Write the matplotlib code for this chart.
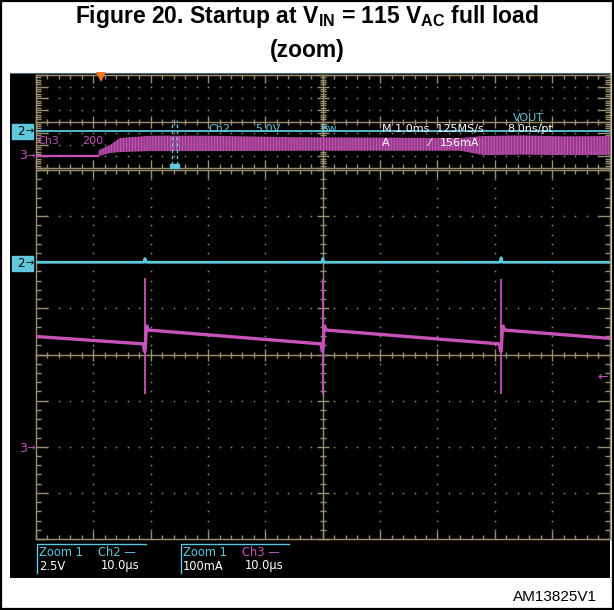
import numpy as np
import matplotlib
matplotlib.use("Agg")
import matplotlib.pyplot as plt
from matplotlib.patches import Rectangle
from matplotlib.collections import LineCollection

# ---------------- data ----------------
# Overview pane: 1 ms/div, Ch3 = current (200 mA/div), Ch2 = VOUT (5 V/div)
ov_flat_time_ms = [0.0, 1.08]
ov_flat_mA = [5, 5]
ov_band_time_ms = [1.08, 1.10, 1.29, 1.46, 2.0, 3.0, 4.5, 7.4, 7.8, 8.5, 9.2, 10.0]
ov_band_hi_mA = [5, 109, 195, 316, 355, 355, 330, 316, 350, 360, 345, 350]
ov_band_lo_mA = [5, 5, 57, 74, 91, 91, 97, 97, 22, 30, 22, 25]
ov_ch2_time_ms = [0.0, 10.0]
ov_ch2_V = [0.0, 0.0]
zoom_window_ms = [2.365, 2.455]
trigger_ms = 1.13

# Zoom pane: 10 us/div, Ch3 100 mA/div, Ch2 2.5 V/div
zm_ch3_time_us = [0.0, 18.7, 18.95, 19.05, 19.25, 19.6,
                  49.7, 49.95, 50.05, 50.25, 50.6,
                  80.8, 81.05, 81.15, 81.35, 81.7, 100.0]
zm_ch3_mA = [239, 223, 205, 215, 264, 253,
             223, 205, 215, 264, 253,
             223, 205, 215, 264, 253, 235]
zm_spike_time_us = [19.0, 50.0, 81.1]
zm_spike_top_mA = [366, 364, 364]
zm_spike_bottom_mA = [114, 114, 114]
zm_ch2_time_us = [0.0, 18.8, 19.0, 19.2, 49.8, 50.0, 50.2, 80.9, 81.1, 81.3, 100.0]
zm_ch2_V = [0.0, 0.0, 0.2, 0.0, 0.0, 0.2, 0.0, 0.0, 0.25, 0.0, 0.0]

# ---------------- styling ----------------
W, H = 614, 610
MAG = "#c853b8"
CYAN = "#5ec8dc"
GRID = "#9a9070"
DOT = "#8e8e86"
ORANGE = "#f07828"
SCOPE_FONT = "DejaVu Sans"

plt.rcParams["mathtext.fontset"] = "custom"
plt.rcParams["hatch.linewidth"] = 0.85
plt.rcParams["hatch.color"] = MAG

fig = plt.figure(figsize=(W / 100, H / 100), dpi=100)
fig.patch.set_facecolor("white")


def fbox(x0, y0, x1, y1):
    return [x0 / W, 1 - y1 / H, (x1 - x0) / W, (y1 - y0) / H]


def ptxt(x, y, s, color="white", size=8, ha="left", va="center", **kw):
    fig.text(x / W, 1 - y / H, s, color=color, fontsize=size, ha=ha, va=va,
             family=kw.pop("family", SCOPE_FONT), zorder=10, **kw)


# outer frame
fig.patches.append(Rectangle((0.002, 0.002), 0.996, 0.996, transform=fig.transFigure,
                             fill=False, edgecolor="black", lw=1.6))

# title
fig.text(0.5, 1 - 17 / H,
         r"Figure 20. Startup at $\mathregular{V_{IN}}$ = 115 $\mathregular{V_{AC}}$ full load",
         ha="center", va="center", fontsize=16.5, weight="bold", family="Liberation Sans")
fig.text(0.5, 1 - 50 / H, "(zoom)", ha="center", va="center", fontsize=16.5,
         weight="bold", family="Liberation Sans")
fig.text(597 / W, 1 - 597 / H, "AM13825V1", ha="right", va="center", fontsize=11,
         family="Liberation Sans")

# black scope screen
bg = fig.add_axes(fbox(10, 73, 610, 578))
bg.set_facecolor("black")
bg.set_xticks([]); bg.set_yticks([])
for s in ("left", "right", "bottom"):
    bg.spines[s].set_visible(False)
bg.spines["top"].set_color("#506878")
bg.set_zorder(0)


def graticule(ax, wpx, hpx, nx=10, ny=8, vdots=True):
    T = ax.transAxes
    kw = dict(transform=T, color=GRID, lw=1.0, clip_on=False, zorder=1)
    for xs, ys in (([0, 0], [0, 1]), ([1, 1], [0, 1]), ([0, 1], [0, 0]), ([0, 1], [1, 1]),
                   ([0, 1], [0.5, 0.5]), ([0.5, 0.5], [0, 1])):
        ax.plot(xs, ys, **kw)
    segs = []
    for i in range(nx * 5 + 1):
        x = i / (nx * 5)
        major = i % 5 == 0
        L = 6 if major else 3
        segs.append([(x, 0.5 - L / hpx), (x, 0.5 + L / hpx)])
        E = 8 if major else 4
        segs.append([(x, 0), (x, E / hpx)])
        segs.append([(x, 1), (x, 1 - E / hpx)])
    for j in range(ny * 5 + 1):
        y = j / (ny * 5)
        major = j % 5 == 0
        L = 6 if major else 3
        segs.append([(0.5 - L / wpx, y), (0.5 + L / wpx, y)])
        E = 12 if major else 5
        segs.append([(0, y), (E / wpx, y)])
        segs.append([(1, y), (1 - E / wpx, y)])
    ax.add_collection(LineCollection(segs, colors=GRID, linewidths=1.0, transform=T,
                                     clip_on=False, zorder=1))
    dx, dy = [], []
    for i in range(1, nx):
        if i == nx // 2:
            continue
        for j in range(ny * 5 + 1):
            if (vdots and j % 5 != 0) or (j % 5 == 0 and 0 < j < ny * 5 and j != ny * 5 // 2):
                dx.append(i / nx); dy.append(j / (ny * 5))
    for j in range(1, ny):
        if j == ny // 2:
            continue
        for i in range(1, nx * 5):
            if i % 5 != 0:
                dx.append(i / (nx * 5)); dy.append(j / ny)
    ax.plot(dx, dy, ls="none", marker="s", ms=1.1, mew=0, color=DOT, transform=T,
            clip_on=False, zorder=1)


# ---------------- overview pane ----------------
OVX0, OVX1, OVY0, OVY1 = 36, 609.5, 75, 168
ov = fig.add_axes(fbox(OVX0, OVY0, OVX1, OVY1))
ov.set_facecolor("none")
ov.axis("off")
ov.set_xlim(0, 10)
ov.set_ylim(-200, 1400)     # 200 mA/div, Ch3 ground at -3 div
graticule(ov, OVX1 - OVX0, OVY1 - OVY0, vdots=False)
ov2 = ov.twinx()
ov2.axis("off")
ov2.set_ylim(-15.7, 24.3)   # 5 V/div, Ch2 ground at -0.86 div

ov.plot(ov_flat_time_ms, ov_flat_mA, color=MAG, lw=1.6, zorder=3)
band = ov.fill_between(ov_band_time_ms, ov_band_lo_mA, ov_band_hi_mA, facecolor="#2e0e2b",
                       edgecolor="none", lw=0, zorder=3)
band.set_hatch("|" * 11)
ov2.plot(ov_ch2_time_ms, ov_ch2_V, color=CYAN, lw=1.3, zorder=4)
for t in zoom_window_ms:
    ov.axvline(t, ymin=0.03, ymax=0.52, color=CYAN, lw=1.0, ls=(0, (2.5, 2)), zorder=5)
ov.add_patch(Rectangle((zoom_window_ms[0] - 0.03, 0), zoom_window_ms[1] - zoom_window_ms[0] + 0.06,
                       0.045, transform=ov.get_xaxis_transform(), color=CYAN, zorder=5,
                       clip_on=False))
ov.plot([trigger_ms], [0.975], marker="v", ms=7, color=ORANGE, mew=0,
        transform=ov.get_xaxis_transform(), clip_on=False, zorder=6)

# overview labels
ptxt(37, 141, "Ch3", MAG)
ptxt(82, 141, "200", MAG)
ptxt(208, 129, "Ch2", CYAN)
ptxt(255, 129, "5.0V", CYAN)
ptxt(321, 129, "Bw", CYAN)
ptxt(382, 129, "M 1.0ms  125MS/s", "white")
ptxt(507, 129, "8.0ns/pt", "white")
ptxt(513, 118, "VOUT", CYAN)
ptxt(382, 143, "A", "white")
ptxt(428, 143, "\u2044", "white")
ptxt(440, 143, "156mA", "white")

# channel markers (overview)
fig.patches.append(Rectangle((12 / W, 1 - 139 / H), 21 / W, 15 / H, transform=fig.transFigure,
                             color=CYAN, zorder=5))
ptxt(21, 131.5, "2", "black", size=8.5, ha="center")
ptxt(30, 131.5, "\u2192", "black", size=7, ha="center")
ptxt(23, 156, "3", MAG, size=9, ha="center")
ptxt(31, 156, "\u2192", MAG, size=7.5, ha="center")

# ---------------- zoom pane ----------------
ZX0, ZX1, ZY0, ZY1 = 36, 609.5, 170, 539
zm = fig.add_axes(fbox(ZX0, ZY0, ZX1, ZY1))
zm.set_facecolor("none")
zm.axis("off")
zm.set_xlim(0, 100)
zm.set_ylim(-200, 600)      # 100 mA/div, Ch3 ground at -2 div
graticule(zm, ZX1 - ZX0, ZY1 - ZY0, vdots=True)
zm2 = zm.twinx()
zm2.axis("off")
zm2.set_ylim(-15, 5)        # 2.5 V/div, Ch2 ground at +2 div

zm.plot(zm_ch3_time_us, zm_ch3_mA, color=MAG, lw=2.4, zorder=3, solid_joinstyle="miter")
zm.vlines(zm_spike_time_us, zm_spike_bottom_mA, zm_spike_top_mA, color=MAG, lw=1.3, zorder=3)
zm2.plot(zm_ch2_time_us, zm_ch2_V, color=CYAN, lw=2.0, zorder=4)

fig.patches.append(Rectangle((12 / W, 1 - 271 / H), 21 / W, 15 / H, transform=fig.transFigure,
                             color=CYAN, zorder=5))
ptxt(21, 263.5, "2", "black", size=8.5, ha="center")
ptxt(30, 263.5, "\u2192", "black", size=7, ha="center")
ptxt(23, 448, "3", MAG, size=9, ha="center")
ptxt(31, 448, "\u2192", MAG, size=7.5, ha="center")
ptxt(603, 377, "\u2190", MAG, size=9, ha="center")

# ---------------- bottom readouts ----------------
for x0, x1 in ((37.3, 145.7), (180.7, 289.3)):
    fig.add_artist(plt.Line2D([x0 / W, x0 / W, x1 / W], [1 - 573 / H, 1 - 544 / H, 1 - 544 / H],
                              color=CYAN, lw=1.0, transform=fig.transFigure))
ptxt(39, 553, "Zoom 1", CYAN, size=8.3)
ptxt(98, 553, "Ch2 \u2014", CYAN, size=8.3)
ptxt(39, 566, "2.5V", "white", size=8.3)
ptxt(101, 566, "10.0\u00b5s", "white", size=8.3)
ptxt(183, 553, "Zoom 1", CYAN, size=8.3)
ptxt(242, 553, "Ch3 \u2014", MAG, size=8.3)
ptxt(183, 566, "100mA", "white", size=8.3)
ptxt(245, 566, "10.0\u00b5s", "white", size=8.3)

fig.savefig("out.png", dpi=100, facecolor="white")
